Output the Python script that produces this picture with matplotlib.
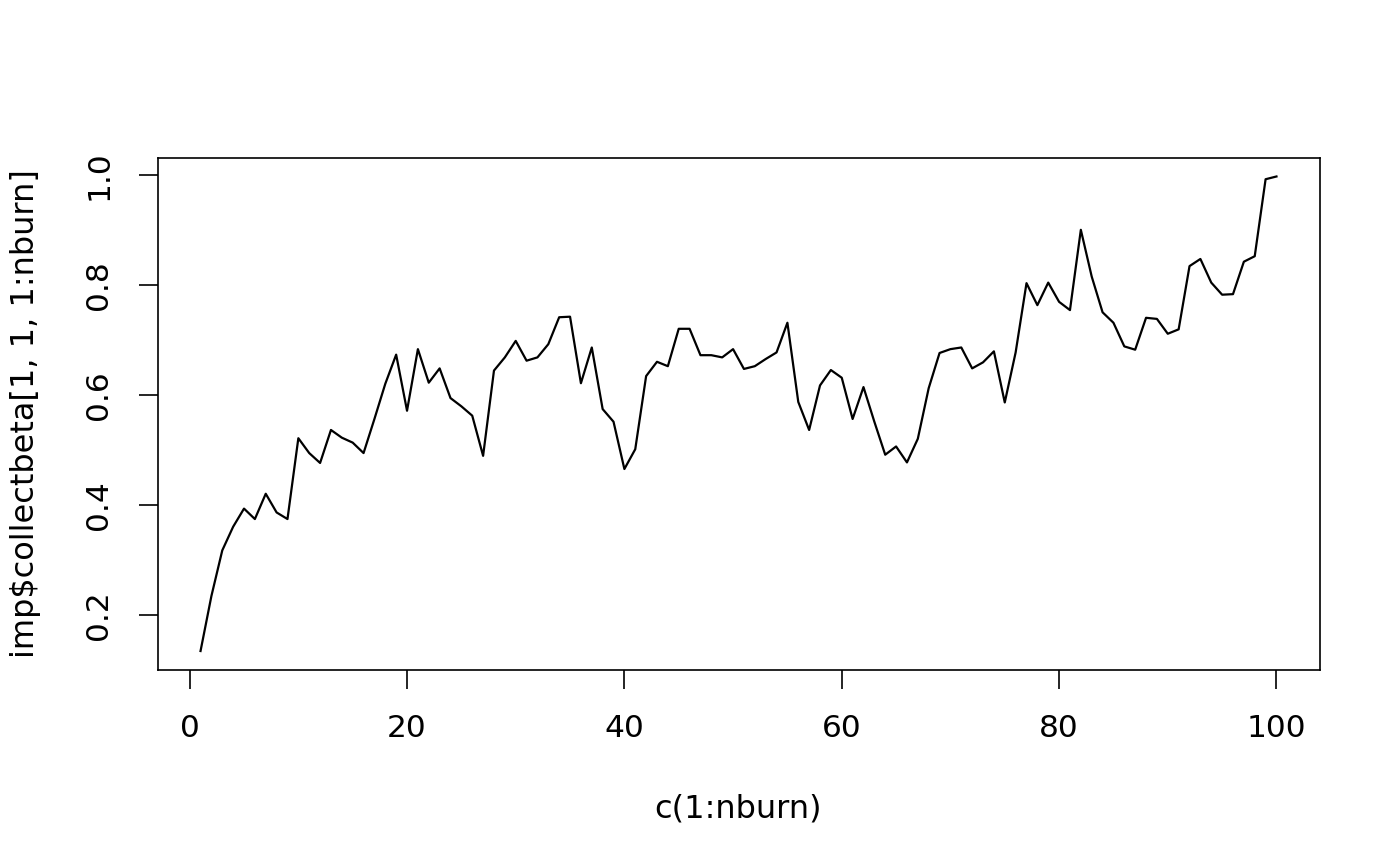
import matplotlib
matplotlib.use("Agg")
import matplotlib.pyplot as plt

# trace of imp$collectbeta[1, 1, 1:nburn]
iteration = list(range(1, 101))
beta = [
    0.135, 0.235, 0.318, 0.361, 0.394, 0.375, 0.421, 0.387, 0.375, 0.522,
    0.495, 0.477, 0.537, 0.523, 0.514, 0.495, 0.557, 0.621, 0.674, 0.572,
    0.684, 0.623, 0.649, 0.595, 0.580, 0.563, 0.490, 0.645, 0.669, 0.699,
    0.663, 0.669, 0.693, 0.742, 0.743, 0.622, 0.687, 0.575, 0.552, 0.466,
    0.502, 0.635, 0.661, 0.653, 0.721, 0.721, 0.673, 0.673, 0.669, 0.684,
    0.648, 0.653, 0.666, 0.678, 0.732, 0.588, 0.537, 0.618, 0.646, 0.632,
    0.557, 0.615, 0.552, 0.492, 0.507, 0.478, 0.521, 0.613, 0.677, 0.684,
    0.687, 0.649, 0.660, 0.680, 0.587, 0.678, 0.804, 0.764, 0.805, 0.770,
    0.755, 0.901, 0.816, 0.751, 0.732, 0.689, 0.683, 0.741, 0.739, 0.712,
    0.720, 0.835, 0.848, 0.805, 0.783, 0.784, 0.843, 0.853, 0.993, 0.998,
]
x_ticks = [0, 20, 40, 60, 80, 100]
y_ticks = [0.2, 0.4, 0.6, 0.8, 1.0]

plt.rcParams["font.family"] = "DejaVu Sans"
FS_TICK = 22.5
FS_LAB = 23

fig = plt.figure(figsize=(14, 8.66), dpi=100)
ax = fig.add_axes([157.5 / 1400, 1 - 670 / 866, (1319.5 - 157.5) / 1400, (670 - 157.5) / 866])

ax.plot(iteration, beta, color="black", linewidth=1.6)

# R-style 4% padding around the data range
def pad(lo, hi):
    d = (hi - lo) * 0.04
    return lo - d, hi + d

ax.set_xlim(*pad(min(iteration), max(iteration)))
ax.set_ylim(*pad(min(beta), max(beta)))

ax.set_xticks(x_ticks)
ax.set_xticklabels([str(t) for t in x_ticks])
ax.set_yticks(y_ticks)
ax.set_yticklabels([f"{t:.1f}" for t in y_ticks], rotation=90, va="center")
ax.tick_params(direction="out", length=13.7, width=1.2, pad=18, labelsize=FS_TICK)
for s in ax.spines.values():
    s.set_linewidth(1.2)

ax.set_xlabel("c(1:nburn)", fontsize=FS_LAB, labelpad=36)
ax.set_ylabel(r"imp\$collectbeta[1, 1, 1:nburn]", fontsize=FS_LAB, labelpad=31)

fig.savefig("out.png", dpi=100, facecolor="white")
